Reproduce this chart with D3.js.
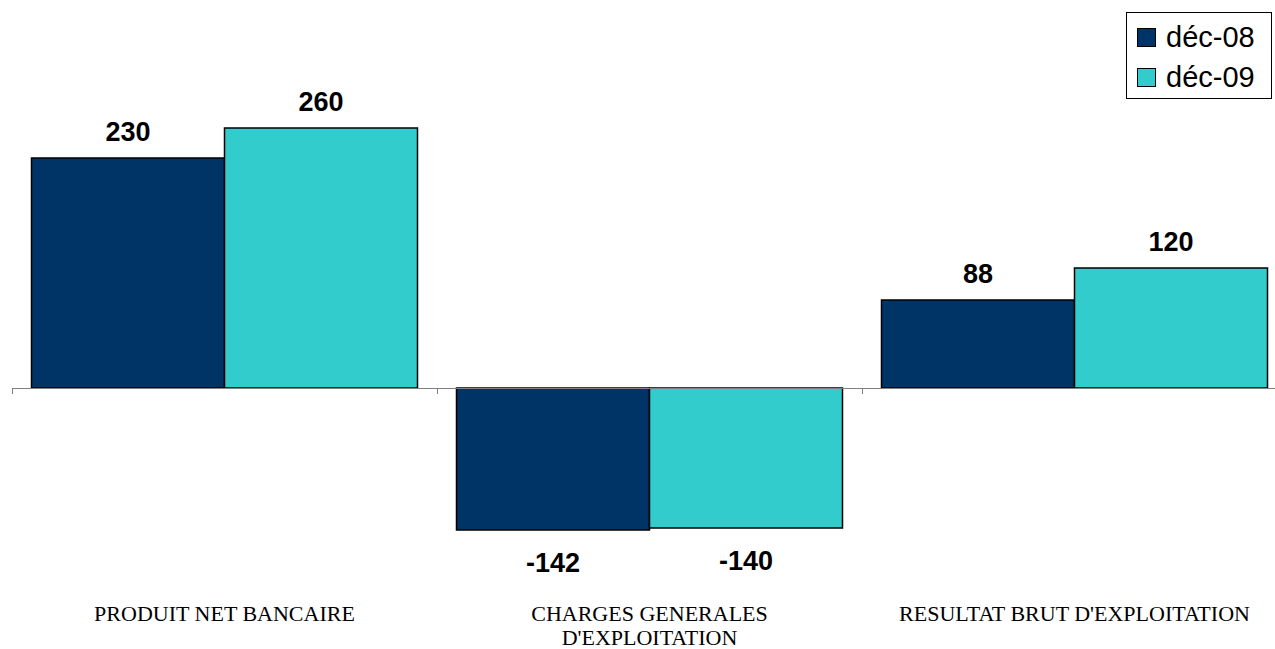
<!DOCTYPE html>
<html>
<head>
<meta charset="utf-8">
<script src="https://cdn.jsdelivr.net/npm/d3@7"></script>
<style>
  html, body { margin: 0; padding: 0; background: #fff; overflow: hidden; }
  svg { display: block; }
</style>
</head>
<body>
<svg id="chart" width="1275" height="649"></svg>
<script>
// Categories, series and values (millions)
const categories = ["PRODUIT NET BANCAIRE", "CHARGES GENERALES D'EXPLOITATION", "RESULTAT BRUT D'EXPLOITATION"];
const categoryLines = [["PRODUIT NET  BANCAIRE"], ["CHARGES GENERALES", "D'EXPLOITATION"], ["RESULTAT BRUT D'EXPLOITATION"]];
const seriesNames = ["déc-08", "déc-09"];
const values08 = [230, -142, 88];
const values09 = [260, -140, 120];
const seriesColors = ["#003366", "#33CCCC"];

const seriesValues = [values08, values09];

const svg = d3.select("#chart");

const x = d3.scaleBand().domain(categories).range([12, 1287]).paddingInner(0).paddingOuter(0);
const xInner = d3.scaleBand().domain(seriesNames)
  .range([19.5, x.bandwidth() - 19.5]).paddingInner(0).paddingOuter(0);
const y = d3.scaleLinear().domain([-200, 350]).range([588, 38]);

// Bars and value labels
const groups = svg.selectAll("g.cat")
  .data(categories)
  .join("g")
  .attr("class", "cat")
  .attr("transform", d => `translate(${x(d)},0)`);

groups.each(function(cat, ci) {
  const g = d3.select(this);
  seriesNames.forEach((s, si) => {
    const v = seriesValues[si][ci];
    g.append("rect")
      .attr("x", xInner(s))
      .attr("y", Math.min(y(v), y(0)))
      .attr("width", xInner.bandwidth())
      .attr("height", Math.abs(y(v) - y(0)))
      .attr("fill", seriesColors[si])
      .attr("stroke", "#000")
      .attr("stroke-width", 1.5);
    g.append("text")
      .attr("x", xInner(s) + xInner.bandwidth() / 2)
      .attr("y", v >= 0 ? y(v) - 17 : y(v) + 42)
      .attr("text-anchor", "middle")
      .attr("font-family", "Liberation Sans, Arial, sans-serif")
      .attr("font-weight", "bold")
      .attr("font-size", 27)
      .attr("fill", "#000")
      .text(v);
  });
});

// Zero baseline with category separator ticks
svg.append("line")
  .attr("x1", 12).attr("x2", 1287)
  .attr("y1", y(0) + 0.5).attr("y2", y(0) + 0.5)
  .attr("stroke", "#808080").attr("stroke-width", 1);
const tickXs = categories.map(c => x(c)).concat([x.range()[1]]);
svg.selectAll("line.tick")
  .data(tickXs)
  .join("line")
  .attr("class", "tick")
  .attr("x1", d => d + 0.5).attr("x2", d => d + 0.5)
  .attr("y1", y(0)).attr("y2", y(0) + 6)
  .attr("stroke", "#808080").attr("stroke-width", 1);

// Category labels
groups.each(function(cat, ci) {
  const t = d3.select(this).append("text")
    .attr("text-anchor", "middle")
    .attr("font-family", "Liberation Serif, Times New Roman, serif")
    .attr("font-size", 22)
    .attr("fill", "#000");
  categoryLines[ci].forEach((line, li) => {
    t.append("tspan")
      .attr("x", x.bandwidth() / 2)
      .attr("y", 621 + li * 24)
      .text(line);
  });
});

// Legend
const legend = svg.append("g").attr("transform", "translate(1126,12)");
legend.append("rect")
  .attr("x", 0.5).attr("y", 0.5).attr("width", 145).attr("height", 86)
  .attr("fill", "#fff").attr("stroke", "#000").attr("stroke-width", 1);
seriesNames.forEach((s, i) => {
  legend.append("rect")
    .attr("x", 11.5).attr("y", 16.5 + i * 40).attr("width", 18).attr("height", 18)
    .attr("fill", seriesColors[i]).attr("stroke", "#000").attr("stroke-width", 1);
  legend.append("text")
    .attr("x", 40).attr("y", 35 + i * 40)
    .attr("font-family", "Liberation Sans, Arial, sans-serif")
    .attr("font-size", 29)
    .attr("fill", "#000")
    .text(s);
});
</script>
</body>
</html>
